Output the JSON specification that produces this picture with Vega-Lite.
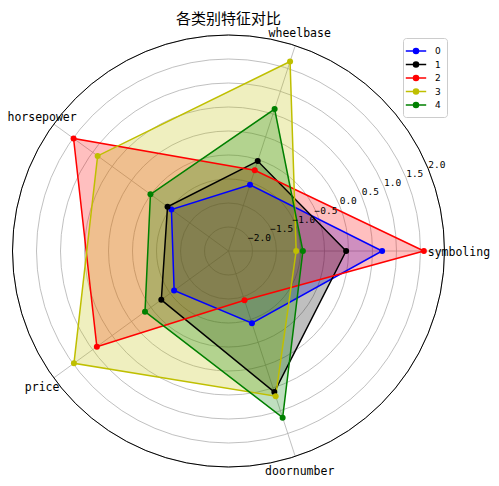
{
  "$schema": "https://vega.github.io/schema/vega-lite/v6.json",
  "width": 499,
  "height": 456,
  "autosize": {"type": "none"},
  "padding": {"left": 0, "top": 30, "right": 0, "bottom": 0},
  "background": "white",
  "title": {"text": "各类别特征对比", "font": "Noto Sans CJK SC", "fontSize": 15, "fontWeight": "normal", "anchor": "middle", "frame": "group", "dx": -21, "dy": 7, "offset": 8, "color": "black"},
  "config": {"view": {"stroke": null}},
  "datasets": {
    "features": [
      {"feature": "symboling", "idx": 0},
      {"feature": "wheelbase", "idx": 1},
      {"feature": "horsepower", "idx": 2},
      {"feature": "price", "idx": 3},
      {"feature": "doornumber", "idx": 4}
    ],
    "rings": [
      {"r": -2.0, "label": "−2.0"},
      {"r": -1.5, "label": "−1.5"},
      {"r": -1.0, "label": "−1.0"},
      {"r": -0.5, "label": "−0.5"},
      {"r": 0.0, "label": "0.0"},
      {"r": 0.5, "label": "0.5"},
      {"r": 1.0, "label": "1.0"},
      {"r": 1.5, "label": "1.5"},
      {"r": 2.0, "label": "2.0"}
    ],
    "scores": [
      {"series": "0", "feature": "symboling", "idx": 0, "value": 0.70},
      {"series": "0", "feature": "wheelbase", "idx": 1, "value": -1.05},
      {"series": "0", "feature": "horsepower", "idx": 2, "value": -1.03},
      {"series": "0", "feature": "price", "idx": 3, "value": -1.10},
      {"series": "0", "feature": "doornumber", "idx": 4, "value": -0.92},
      {"series": "1", "feature": "symboling", "idx": 0, "value": -0.05},
      {"series": "1", "feature": "wheelbase", "idx": 1, "value": -0.53},
      {"series": "1", "feature": "horsepower", "idx": 2, "value": -0.93},
      {"series": "1", "feature": "price", "idx": 3, "value": -0.77},
      {"series": "1", "feature": "doornumber", "idx": 4, "value": 0.59},
      {"series": "2", "feature": "symboling", "idx": 0, "value": 1.57},
      {"series": "2", "feature": "wheelbase", "idx": 1, "value": -0.73},
      {"series": "2", "feature": "horsepower", "idx": 2, "value": 1.49},
      {"series": "2", "feature": "price", "idx": 3, "value": 0.89},
      {"series": "2", "feature": "doornumber", "idx": 4, "value": -1.42},
      {"series": "3", "feature": "symboling", "idx": 0, "value": -1.09},
      {"series": "3", "feature": "wheelbase", "idx": 1, "value": 1.65},
      {"series": "3", "feature": "horsepower", "idx": 2, "value": 0.87},
      {"series": "3", "feature": "price", "idx": 3, "value": 1.48},
      {"series": "3", "feature": "doornumber", "idx": 4, "value": 0.68},
      {"series": "4", "feature": "symboling", "idx": 0, "value": -0.95},
      {"series": "4", "feature": "wheelbase", "idx": 1, "value": 0.61},
      {"series": "4", "feature": "horsepower", "idx": 2, "value": -0.49},
      {"series": "4", "feature": "price", "idx": 3, "value": -0.35},
      {"series": "4", "feature": "doornumber", "idx": 4, "value": 1.15}
    ]
  },
  "layer": [
    {
      "data": {"name": "rings"},
      "transform": [{"calculate": "datum.r + 2.5", "as": "u"}, {"calculate": "0", "as": "cx"}],
      "mark": {"type": "point", "shape": "circle", "filled": false, "stroke": "#b0b0b0", "strokeWidth": 0.8, "opacity": 1},
      "encoding": {
        "x": {"field": "cx", "type": "quantitative", "scale": {"domain": [-4.7604, 5.6354], "nice": false, "zero": false}, "axis": null},
        "y": {"field": "cx", "type": "quantitative", "scale": {"domain": [-4.8958, 4.6042], "nice": false, "zero": false}, "axis": null},
        "size": {"field": "u", "type": "quantitative", "scale": {"type": "pow", "exponent": 2, "domain": [0, 4.5], "range": [0, 186624]}, "legend": null}
      }
    },
    {
      "data": {"name": "features"},
      "transform": [
        {"calculate": "datum.idx * 2 * PI / 5", "as": "ang"},
        {"calculate": "0", "as": "cx"},
        {"calculate": "4.5 * cos(datum.ang)", "as": "ex"},
        {"calculate": "4.5 * sin(datum.ang)", "as": "ey"}
      ],
      "mark": {"type": "rule", "stroke": "#b0b0b0", "strokeWidth": 0.8},
      "encoding": {
        "x": {"field": "cx", "type": "quantitative"},
        "y": {"field": "cx", "type": "quantitative"},
        "x2": {"field": "ex"},
        "y2": {"field": "ey"}
      }
    },
    {
      "data": {"name": "rings"},
      "transform": [{"filter": "datum.r == 2.0"}, {"calculate": "datum.r + 2.5", "as": "u"}, {"calculate": "0", "as": "cx"}],
      "mark": {"type": "point", "shape": "circle", "filled": false, "stroke": "black", "strokeWidth": 1, "opacity": 1},
      "encoding": {
        "x": {"field": "cx", "type": "quantitative"},
        "y": {"field": "cx", "type": "quantitative"},
        "size": {"field": "u", "type": "quantitative"}
      }
    },
    {
      "data": {"name": "scores"},
      "transform": [
        {"calculate": "datum.idx * 2 * PI / 5", "as": "ang"},
        {"calculate": "(datum.value + 2.5) * cos(datum.ang)", "as": "px"},
        {"calculate": "(datum.value + 2.5) * sin(datum.ang)", "as": "py"},
        {"calculate": "'g' + datum.series", "as": "grp"}
      ],
      "layer": [
        {
          "mark": {"type": "line", "interpolate": "linear-closed", "fillOpacity": 0.25, "strokeOpacity": 0, "strokeWidth": 0},
          "encoding": {
            "x": {"field": "px", "type": "quantitative"},
            "y": {"field": "py", "type": "quantitative"},
            "order": {"field": "idx", "type": "quantitative"},
            "fill": {"field": "grp", "type": "nominal", "scale": {"domain": ["g0", "g1", "g2", "g3", "g4"], "range": ["#0000ff", "#000000", "#ff0000", "#bfbf00", "#008000"]}, "legend": null}
          }
        },
        {
          "mark": {"type": "line", "interpolate": "linear-closed", "strokeWidth": 1.5},
          "encoding": {
            "x": {"field": "px", "type": "quantitative"},
            "y": {"field": "py", "type": "quantitative"},
            "order": {"field": "idx", "type": "quantitative"},
            "color": {"field": "series", "type": "nominal", "scale": {"domain": ["0", "1", "2", "3", "4"], "range": ["#0000ff", "#000000", "#ff0000", "#bfbf00", "#008000"]},
              "legend": {"title": null, "orient": "none", "legendX": 403, "legendY": 8, "symbolType": "M-1.7,0H1.7M0.42,0A0.42,0.42,0,1,1,-0.42,0A0.42,0.42,0,1,1,0.42,0Z", "symbolSize": 144, "symbolStrokeWidth": 1.5, "labelFontSize": 9, "labelFont": "DejaVu Sans", "labelColor": "black", "padding": 6, "strokeColor": "#cccccc", "fillColor": "white", "cornerRadius": 3, "rowPadding": 0.5, "labelOffset": 12,
                "encode": {"symbols": {"update": {"fill": {"scale": "color", "field": "value"}, "stroke": {"scale": "color", "field": "value"}, "opacity": {"value": 1}}}}}}
          }
        },
        {
          "mark": {"type": "point", "filled": true, "size": 36, "opacity": 1},
          "encoding": {
            "x": {"field": "px", "type": "quantitative"},
            "y": {"field": "py", "type": "quantitative"},
            "color": {"field": "series", "type": "nominal"}
          }
        }
      ]
    },
    {
      "data": {"name": "features"},
      "transform": [
        {"calculate": "datum.idx * 2 * PI / 5", "as": "ang"},
        {"calculate": "4.8 * cos(datum.ang)", "as": "tx"},
        {"calculate": "4.8 * sin(datum.ang)", "as": "ty"}
      ],
      "mark": {"type": "text", "font": "DejaVu Sans Mono", "fontSize": 11.5, "align": "center", "baseline": "middle", "dy": 2, "color": "black"},
      "encoding": {
        "x": {"field": "tx", "type": "quantitative"},
        "y": {"field": "ty", "type": "quantitative"},
        "text": {"field": "feature"}
      }
    },
    {
      "data": {"name": "rings"},
      "transform": [
        {"calculate": "datum.r + 2.5 + 0.2", "as": "lu"},
        {"calculate": "datum.lu * cos(PI / 8)", "as": "lx"},
        {"calculate": "datum.lu * sin(PI / 8)", "as": "ly"}
      ],
      "mark": {"type": "text", "font": "DejaVu Sans Mono", "fontSize": 9.5, "align": "center", "baseline": "middle", "color": "black"},
      "encoding": {
        "x": {"field": "lx", "type": "quantitative"},
        "y": {"field": "ly", "type": "quantitative"},
        "text": {"field": "label"}
      }
    }
  ]
}
